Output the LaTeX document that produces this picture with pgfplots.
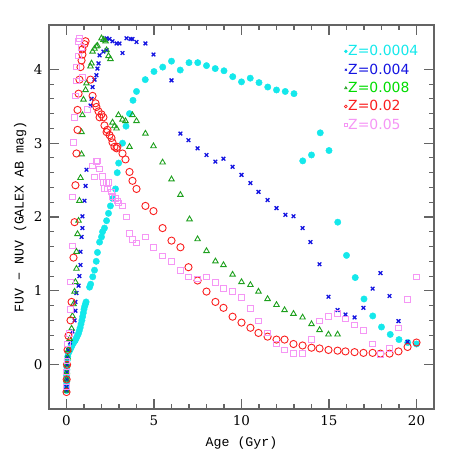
\documentclass[border=0pt]{standalone}
\usepackage{fontspec}
\setmainfont{DejaVu Serif}
\newfontfamily\legfont{DejaVu Sans}
\newfontfamily\labfont{Liberation Mono}
\usepackage{pgfplots}
\pgfplotsset{compat=1.18}

\definecolor{zcyan}{RGB}{20,232,235}
\definecolor{zblue}{RGB}{20,20,225}
\definecolor{zgreen}{RGB}{30,160,30}
\definecolor{zgreentxt}{RGB}{0,220,0}
\definecolor{zred}{RGB}{250,30,30}
\definecolor{zpink}{RGB}{245,150,245}
\definecolor{axgray}{RGB}{100,100,100}

\begin{document}
\begin{tikzpicture}
\begin{axis}[
  name=ax,
  scale only axis, width=385bp, height=384bp,
  xmin=-1, xmax=21, ymin=-0.6, ymax=4.6,
  xtick={0,5,10,15,20}, ytick={0,1,2,3,4},
  minor x tick num=4, minor y tick num=4,
  tick align=inside,
  major tick length=10bp, minor tick length=5bp,
  axis line style={draw=axgray, line width=1.2bp},
  every tick/.style={draw=axgray, line width=1.1bp},
  /pgf/number format/assume math mode=true,
  tick label style={font=\fontsize{13.5}{15}\selectfont},
  x tick label style={yshift=-3bp},
  y tick label style={xshift=-3bp},
  xlabel={Age (Gyr)},
  ylabel={FUV − NUV (GALEX AB mag)},
  label style={font=\labfont\fontsize{13.3}{15}\selectfont},
  x label style={at={(axis description cs:0.5,-0.088)}, anchor=center},
  y label style={at={(axis description cs:-0.075,0.5)}, anchor=center},
  legend image code/.code={\draw[#1, mark size=1.4bp, line width=0.7bp] plot coordinates {(0bp,0bp)};},
  legend style={draw=none, fill=none, at={(axis description cs:0.97,0.955)}, anchor=north east,
    font=\legfont\fontsize{14}{16}\selectfont, row sep=4.5bp,
    nodes={inner sep=1bp}},
  legend cell align=left,
]
% Z=0.0004
\addplot[only marks, mark=*, mark size=3.2bp, color=zcyan, fill=zcyan] coordinates {
(0.00,-0.35) (0.00,-0.31) (0.00,-0.27) (0.01,-0.23) (0.01,-0.19) (0.01,-0.15) (0.01,-0.11)
(0.02,-0.07) (0.02,-0.03) (0.02,0.01) (0.04,0.06) (0.07,0.11) (0.10,0.15) (0.15,0.18)
(0.20,0.20) (0.26,0.23) (0.32,0.26) (0.38,0.29) (0.44,0.31) (0.50,0.33) (0.56,0.36)
(0.62,0.39) (0.68,0.42) (0.73,0.46) (0.78,0.50) (0.83,0.55) (0.88,0.60) (0.92,0.65)
(0.96,0.70) (1.00,0.75) (1.04,0.79) (1.08,0.82) (1.12,0.85) (1.32,1.05) (1.38,1.09)
(1.50,1.19) (1.60,1.28) (1.70,1.40) (1.77,1.52) (1.89,1.66) (2.00,1.73) (2.06,1.80)
(2.17,1.85) (2.29,1.95) (2.40,2.05) (2.51,2.15) (2.64,2.25) (2.80,2.38) (2.90,2.60)
(2.98,2.73) (3.20,3.00) (3.40,3.23) (3.60,3.40) (3.80,3.58) (4.00,3.70) (4.50,3.86)
(5.00,3.97) (5.50,4.03) (6.00,4.11) (6.50,3.99) (7.00,4.09) (7.50,4.09) (8.00,4.05)
(8.50,4.01) (9.00,3.98) (9.50,3.90) (10.00,3.83) (10.50,3.88) (11.00,3.82) (11.50,3.76)
(12.00,3.72) (12.50,3.70) (13.00,3.67) (13.50,2.76) (14.00,2.84) (14.50,3.14) (15.00,2.90)
(15.50,1.93) (16.00,1.48) (16.50,1.18) (17.00,0.89) (17.50,0.66) (18.00,0.51) (18.50,0.41)
(19.00,0.34) (19.50,0.30) (20.00,0.28)
};
% Z=0.004
\addplot[only marks, mark=x, mark size=2.6bp, line width=1.3bp, color=zblue] coordinates {
(0.00,-0.35) (0.00,-0.30) (0.01,-0.20) (0.02,-0.10) (0.03,0.00) (0.05,0.10) (0.10,0.20)
(0.20,0.30) (0.34,0.45) (0.46,0.60) (0.51,0.73) (0.51,0.85) (0.57,0.97) (0.69,1.07)
(0.74,1.20) (0.80,1.35) (0.80,1.53) (0.86,1.73) (0.91,1.85) (0.91,2.01) (1.03,2.22)
(1.09,2.42) (1.14,2.64) (1.37,3.51) (1.43,3.60) (1.49,3.76) (1.60,3.86) (1.71,3.92)
(1.77,4.01) (1.83,4.08) (1.89,4.19) (2.11,4.24) (2.17,4.41) (2.29,4.42) (2.29,4.26)
(2.46,4.41) (2.63,4.38) (2.86,4.35) (3.03,4.35) (3.20,4.22) (3.43,4.42) (3.66,4.41)
(3.77,4.41) (4.00,4.37) (4.51,4.35) (4.97,4.20) (6.00,3.85) (6.51,3.13) (6.97,3.04)
(7.49,2.93) (8.00,2.84) (8.51,2.75) (8.97,2.79) (9.49,2.68) (10.00,2.57) (10.51,2.46)
(10.97,2.34) (11.49,2.23) (12.00,2.12) (12.51,2.03) (12.97,2.01) (13.49,1.85) (13.94,1.66)
(14.46,1.36) (14.97,0.92) (15.49,0.74) (15.94,0.68) (16.46,0.64) (16.97,0.77) (17.49,1.03)
(17.94,1.24) (18.46,0.93) (18.97,0.59) (19.49,0.31)
};
% Z=0.008
\addplot[only marks, mark=triangle, mark size=3.2bp, line width=0.9bp, color=zgreen] coordinates {
(0.00,-0.35) (0.01,-0.20) (0.02,-0.10) (0.03,0.00) (0.06,0.10) (0.10,0.20) (0.18,0.35)
(0.29,0.49) (0.34,0.66) (0.40,0.82) (0.46,0.99) (0.51,1.12) (0.57,1.30) (0.57,1.53)
(0.63,1.77) (0.69,1.95) (0.74,2.22) (0.80,2.53) (0.86,2.85) (0.86,3.15) (0.91,3.38)
(0.97,3.59) (1.09,3.72) (1.14,3.81) (1.37,4.04) (1.43,4.08) (1.49,4.24) (1.60,4.28)
(1.71,4.31) (1.77,4.32) (2.00,4.42) (2.11,4.40) (2.23,4.38) (2.29,4.26) (2.40,4.18)
(2.51,4.14) (2.63,3.28) (2.74,3.23) (2.86,3.20) (2.97,3.38) (3.20,3.32) (3.37,3.30)
(3.60,2.95) (3.77,3.38) (4.00,3.30) (4.51,3.13) (4.97,2.96) (5.49,2.74) (6.00,2.51)
(6.51,2.30) (7.03,1.97) (7.49,1.70) (8.00,1.54) (8.51,1.40) (8.97,1.35) (9.49,1.22)
(10.00,1.12) (10.51,1.08) (10.97,0.99) (11.49,0.89) (12.00,0.81) (12.46,0.74) (12.97,0.69)
(13.49,0.64) (14.00,0.55) (14.46,0.47) (14.97,0.41) (15.49,0.41)
};
% Z=0.02
\addplot[only marks, mark=o, mark size=3.6bp, line width=0.9bp, color=zred] coordinates {
(0.00,-0.37) (0.01,-0.20) (0.03,0.00) (0.06,0.20) (0.11,0.39) (0.23,0.60) (0.29,0.85)
(0.40,1.45) (0.46,1.93) (0.51,2.43) (0.57,2.86) (0.63,3.18) (0.63,3.45) (0.69,3.67)
(0.74,3.86) (0.80,4.03) (0.86,4.12) (0.91,4.20) (0.91,4.27) (1.03,4.34) (1.09,4.38)
(1.37,3.86) (1.49,3.64) (1.66,3.54) (1.71,3.49) (1.83,3.43) (1.89,3.35) (2.00,3.39)
(2.11,3.35) (2.17,3.24) (2.29,3.15) (2.34,3.18) (2.46,3.11) (2.57,3.07) (2.63,3.01)
(2.74,2.95) (2.86,2.93) (2.91,2.95) (3.20,2.86) (3.37,2.78) (3.60,2.61) (3.77,2.49)
(4.00,2.38) (4.51,2.15) (4.97,2.08) (5.49,1.85) (6.00,1.68) (6.51,1.59) (6.97,1.32)
(7.49,1.14) (8.00,0.99) (8.51,0.85) (8.97,0.77) (9.49,0.65) (10.00,0.57) (10.51,0.50)
(10.97,0.43) (11.49,0.38) (12.00,0.34) (12.46,0.34) (12.97,0.28) (13.49,0.26) (14.00,0.23)
(14.46,0.22) (14.97,0.20) (15.49,0.19) (15.94,0.18) (16.46,0.17) (16.97,0.16) (17.49,0.16)
(17.94,0.15) (18.46,0.15) (18.97,0.18) (19.49,0.24) (20.00,0.30)
};
% Z=0.05
\addplot[only marks, mark=square, mark size=2.8bp, line width=0.9bp, color=zpink] coordinates {
(0.00,-0.30) (0.01,-0.10) (0.02,0.05) (0.06,0.28) (0.17,0.42) (0.23,0.75) (0.23,1.12)
(0.34,1.61) (0.34,2.27) (0.40,3.01) (0.46,3.35) (0.51,3.64) (0.57,3.84) (0.57,4.03)
(0.69,4.18) (0.69,4.38) (0.74,4.42) (0.86,4.30) (0.91,3.89) (1.20,3.46) (1.49,2.69)
(1.60,2.54) (1.71,2.75) (1.77,2.76) (1.89,2.65) (2.06,2.55) (2.11,2.47) (2.17,2.39)
(2.29,2.47) (2.34,2.38) (2.40,2.47) (2.57,2.34) (2.63,2.28) (2.80,2.25) (2.91,2.22)
(2.97,2.19) (3.20,2.15) (3.43,2.00) (3.60,1.78) (3.77,1.70) (4.00,1.65) (4.51,1.73)
(4.97,1.59) (5.49,1.47) (6.00,1.40) (6.51,1.28) (6.97,1.19) (7.49,1.16) (8.00,1.19)
(8.51,1.11) (8.97,1.03) (9.49,0.99) (10.00,0.91) (10.51,0.76) (10.97,0.59) (11.49,0.43)
(12.00,0.28) (12.46,0.20) (12.97,0.15) (13.49,0.15) (14.00,0.34) (14.46,0.59) (14.97,0.65)
(15.49,0.69) (15.94,0.62) (16.46,0.54) (16.97,0.46) (17.49,0.28) (17.94,0.14) (18.46,0.22)
(18.97,0.50) (19.49,0.88) (20.00,1.19)
};
\legend{\textcolor{zcyan}{Z=0.0004}, \textcolor{zblue}{Z=0.004}, \textcolor{zgreentxt}{Z=0.008}, \textcolor{zred}{Z=0.02}, \textcolor{zpink}{Z=0.05}}
\end{axis}
\pgfresetboundingbox
\path ([xshift=-49bp,yshift=-49bp]ax.south west) rectangle ([xshift=24bp,yshift=25bp]ax.north east);
\end{tikzpicture}
\end{document}
